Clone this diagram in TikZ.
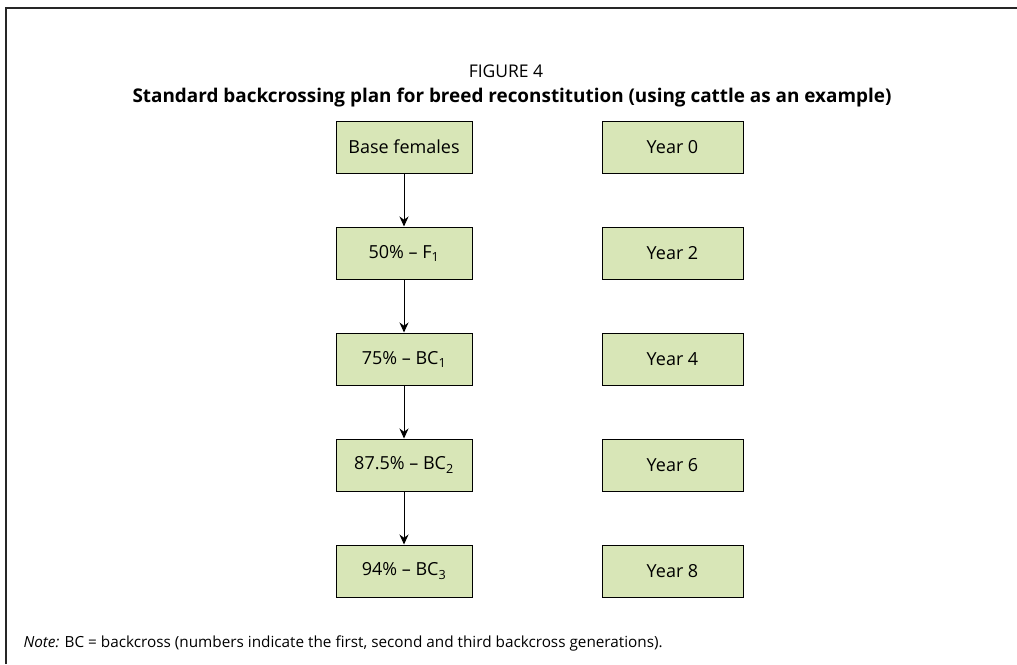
\documentclass[tikz,border=0pt]{standalone}
\usepackage{fontspec}
\setmainfont{Open Sans}
\usepackage{tikz}
\usetikzlibrary{arrows.meta}

\definecolor{boxgreen}{RGB}{216,230,183}

\tikzset{
	planbox/.style={draw=black, fill=boxgreen, line width=1pt, minimum width=136pt, minimum height=52pt, inner sep=0pt, font=\fontsize{18}{21}\selectfont},
	flow/.style={-{Stealth[length=10pt,width=9pt]}, line width=0.9pt}
}

\begin{document}
\begin{tikzpicture}[x=1pt,y=-1pt]
			\useasboundingbox (0,0) rectangle (1017,664);

			% outer frame (open at right and bottom)
			\draw[line width=1.6pt, black!85] (6,664) -- (6,8) -- (1017,8);

			% heading
			\node (fig) at (506,71) {\fontsize{17.5}{20}\selectfont FIGURE 4};
			\node (title) at (512,98) {\fontsize{18.9}{22}\selectfont\bfseries Standard backcrossing plan for breed reconstitution (using cattle as an example)};

			% generations
			\node[planbox] (base) at (404,147) {Base females};
			\node[planbox] (f1) at (404,253) {50\% -- F\textsubscript{1}};
			\node[planbox] (bc1) at (404,359) {75\% -- BC\textsubscript{1}};
			\node[planbox] (bc2) at (404,465) {87.5\% -- BC\textsubscript{2}};
			\node[planbox] (bc3) at (404,571) {94\% -- BC\textsubscript{3}};

			% years
			\foreach \yr/\yy in {0/147,2/253,4/359,6/465,8/571} {
					\node[planbox, minimum width=141pt] (year\yr) at (672.5,\yy) {Year \yr};
				}

			% arrows
			\draw[flow] (base) -- (f1);
			\draw[flow] (f1) -- (bc1);
			\draw[flow] (bc1) -- (bc2);
			\draw[flow] (bc2) -- (bc3);

			% note
			\node[anchor=west] (note) at (20,643) {\fontsize{15.3}{18}\selectfont\textit{Note:} BC = backcross (numbers indicate the first, second and third backcross generations).};
		\end{tikzpicture}
\end{document}
